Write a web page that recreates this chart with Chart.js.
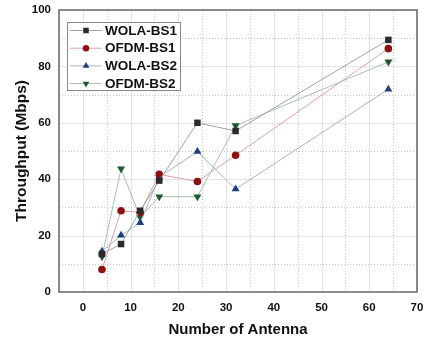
<!DOCTYPE html>
<html>
<head>
<meta charset="utf-8">
<script src="https://cdn.jsdelivr.net/npm/chart.js@4.4.0/dist/chart.umd.min.js"></script>
<style>
    html, body { margin: 0; padding: 0; background: #fff; }
    #wrap { width: 425px; height: 343px; }
</style>
</head>
<body>
<div id="wrap"><canvas id="chart"></canvas></div>
<script>
// Number of antennas (x values)
const antennas = [4, 8, 12, 16, 24, 32, 64];

// Throughput (Mbps) per series
const wolaBs1 = [13.5, 17.0, 28.8, 39.5, 60.0, 57.1, 89.4];
const ofdmBs1 = [8.0, 28.8, 28.2, 41.7, 39.2, 48.5, 86.3];
const wolaBs2 = [14.4, 20.1, 24.6, 40.7, 49.8, 36.5, 71.9];
const ofdmBs2 = [12.5, 43.7, 26.5, 33.8, 33.8, 59.0, 81.6];

const seriesNames = ['WOLA-BS1', 'OFDM-BS1', 'WOLA-BS2', 'OFDM-BS2'];

const xTicks = [0, 10, 20, 30, 40, 50, 60, 70];
const yTicks = [0, 20, 40, 60, 80, 100];

const FONT = "'Liberation Sans', Arial, sans-serif";

function toPoints(values) {
    return antennas.map((a, i) => ({ x: a, y: values[i] }));
}

function markerSize(style) {
    if (style === 'rect') return 4.6;
    if (style === 'circle') return 3.8;
    return 4.6;
}

function makeSet(label, values, line, marker, style, rotation) {
    return {
        label: label,
        data: toPoints(values),
        showLine: true,
        borderColor: line,
        borderWidth: 1,
        backgroundColor: marker,
        pointBackgroundColor: marker,
        pointBorderColor: marker,
        pointBorderWidth: 0,
        pointStyle: style,
        pointRotation: rotation || 0,
        pointRadius: markerSize(style)
    };
}

// grid lines + box + legend drawn by hand so minor lines can be dotted
const gridPlugin = {
    id: 'grid',
    beforeDatasetsDraw(chart) {
        const { ctx, chartArea: a, scales: { x, y } } = chart;
        ctx.save();
        ctx.lineWidth = 1;
        for (let v = -5; v <= 70; v += 5) {
            const px = Math.round(x.getPixelForValue(v)) + 0.5;
            const major = v % 10 === 0;
            ctx.strokeStyle = major ? '#e4e4e4' : '#c8c8c8';
            ctx.setLineDash(major ? [] : [1, 2]);
            ctx.beginPath();
            ctx.moveTo(px, a.top);
            ctx.lineTo(px, a.bottom);
            ctx.stroke();
        }
        for (let v = 10; v < 100; v += 10) {
            const py = Math.round(y.getPixelForValue(v)) + 0.5;
            const major = v % 20 === 0;
            ctx.strokeStyle = major ? '#e4e4e4' : '#c8c8c8';
            ctx.setLineDash(major ? [] : [1, 2]);
            ctx.beginPath();
            ctx.moveTo(a.left, py);
            ctx.lineTo(a.right, py);
            ctx.stroke();
        }
        ctx.restore();
    },
    afterDraw(chart) {
        const { ctx, chartArea: a } = chart;
        ctx.save();
        ctx.strokeStyle = '#666';
        ctx.lineWidth = 1.5;
        ctx.strokeRect(a.left, a.top, a.right - a.left, a.bottom - a.top);

        // legend box inside the plot
        const bx = 67, by = 22, bw = 113, bh = 68;
        ctx.fillStyle = '#fff';
        ctx.fillRect(bx, by, bw, bh);
        ctx.strokeStyle = '#888';
        ctx.lineWidth = 1;
        ctx.strokeRect(bx + 0.5, by + 0.5, bw, bh);
        chart.data.datasets.forEach((ds, i) => {
            const cy = by + 8.5 + i * 17.7;
            ctx.strokeStyle = ds.borderColor;
            ctx.lineWidth = 1;
            ctx.beginPath();
            ctx.moveTo(bx + 3, cy);
            ctx.lineTo(bx + 35, cy);
            ctx.stroke();
            ctx.fillStyle = ds.pointBackgroundColor;
            Chart.helpers.drawPoint(ctx, {
                pointStyle: ds.pointStyle,
                rotation: ds.pointRotation,
                radius: ds.pointRadius * 0.85,
                borderWidth: 0
            }, bx + 19, cy);
            ctx.fillStyle = '#111';
            ctx.font = 'bold 13.5px ' + FONT;
            ctx.textBaseline = 'middle';
            ctx.textAlign = 'left';
            ctx.fillText(ds.label, bx + 38, cy + 0.5);
        });
        ctx.restore();
    }
};

new Chart(document.getElementById('chart'), {
    type: 'scatter',
    data: {
        datasets: [
            makeSet(seriesNames[0], wolaBs1, '#a3a3a3', '#2b2b2b', 'rect'),
            makeSet(seriesNames[1], ofdmBs1, '#dba2a2', '#8f1010', 'circle'),
            makeSet(seriesNames[2], wolaBs2, '#a4b4cc', '#1d3f7c', 'triangle'),
            makeSet(seriesNames[3], ofdmBs2, '#a6c0ae', '#1e5a2e', 'triangle', 180)
        ]
    },
    options: {
        responsive: true,
        maintainAspectRatio: false,
        animation: false,
        layout: { autoPadding: false, padding: { top: 10, right: 8, left: 0, bottom: 0 } },
        plugins: {
            legend: { display: false },
            tooltip: { enabled: false }
        },
        scales: {
            x: {
                type: 'linear',
                min: -5,
                max: 70,
                afterBuildTicks: scale => { scale.ticks = xTicks.map(v => ({ value: v })); },
                afterFit: scale => {
                    scale.height = 51;
                    scale.paddingLeft = 0;
                    scale.paddingRight = 0;
                },
                grid: { display: false, drawTicks: false },
                border: { display: false },
                ticks: {
                    color: '#111',
                    padding: 9,
                    maxRotation: 0,
                    font: { family: FONT, size: 11.5, weight: 'bold' }
                },
                title: {
                    display: true,
                    text: 'Number of Antenna',
                    color: '#111',
                    padding: { top: 3 },
                    font: { family: FONT, size: 15, weight: 'bold' }
                }
            },
            y: {
                min: 0,
                max: 100,
                afterBuildTicks: scale => { scale.ticks = yTicks.map(v => ({ value: v })); },
                afterFit: scale => {
                    scale.width = 59;
                    scale.paddingTop = 0;
                    scale.paddingBottom = 0;
                },
                grid: { display: false, drawTicks: false },
                border: { display: false },
                ticks: {
                    color: '#111',
                    padding: 8,
                    font: { family: FONT, size: 11.5, weight: 'bold' }
                },
                title: {
                    display: true,
                    text: 'Throughput (Mbps)',
                    color: '#111',
                    padding: { top: 12, bottom: 0 },
                    font: { family: FONT, size: 15.5, weight: 'bold' }
                }
            }
        }
    },
    plugins: [gridPlugin]
});
</script>
</body>
</html>
